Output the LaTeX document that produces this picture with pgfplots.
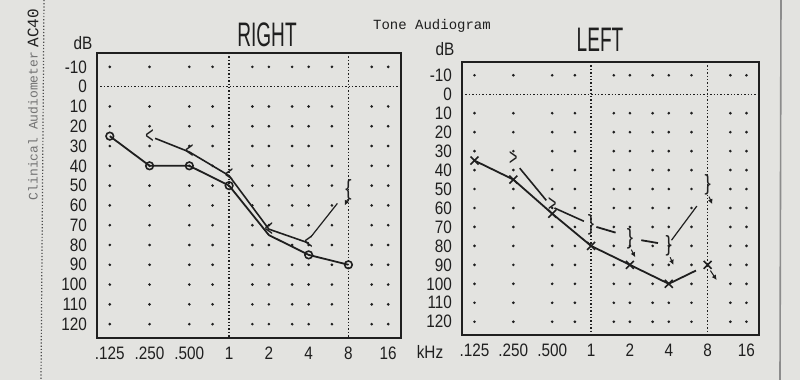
\documentclass[border=0pt]{standalone}
\usepackage{fontspec}
\setmainfont{Liberation Sans}[FakeStretch=0.85]
\newfontfamily\monof{Liberation Mono}
\usepackage{pgfplots}
\pgfplotsset{compat=1.18}
\usetikzlibrary{arrows.meta}
\definecolor{paper}{rgb}{0.89,0.89,0.88}
\definecolor{ink}{rgb}{0.12,0.12,0.12}

\newcommand\gridpts{%
 \pgfplotsinvokeforeach{0.125,0.25,0.5,0.75,1.5,2,3,4,6,12,16}{%
  \addplot[only marks, mark=*, mark size=0.45pt, ink, forget plot]
   coordinates {(##1,-10)(##1,10)(##1,20)(##1,30)(##1,40)(##1,50)(##1,60)(##1,70)(##1,80)(##1,90)(##1,100)(##1,110)(##1,120)};
 }%
 \addplot[ink, densely dotted, line width=0.7pt, forget plot] coordinates {(1,-17)(1,127)};
 \addplot[ink, densely dotted, line width=0.7pt, forget plot] coordinates {(8,-17)(8,127)};
 \addplot[ink, densely dotted, line width=0.7pt, forget plot] coordinates {(0.1,0)(20,0)};
}

\begin{document}
\begin{tikzpicture}[x=0.5pt,y=-0.5pt]
\fill[paper] (0,0) rectangle (800,380);
\useasboundingbox (0,0) rectangle (800,380);
\draw[ink!80, densely dotted, line width=0.6pt] (44,0) -- (41,380);
\draw[black!45, line width=0.8pt] (781,0) -- (780,380);

% ---------------- RIGHT ----------------
\begin{axis}[at={(48.5pt,-26.5pt)}, anchor=north west, width=152pt, height=142.5pt,
  scale only axis,
  xmode=log, log basis x=2, xmin=0.1, xmax=20,
  y dir=reverse, ymin=-17, ymax=127,
  axis line style={ink, line width=1.1pt},
  xtick={0.125,0.25,0.5,1,2,4,8,16},
  xticklabels={.125,.250,.500,1,2,4,8,16},
  ytick={-10,0,10,20,30,40,50,60,70,80,90,100,110,120},
  yticklabels={-10,0,10,20,30,40,50,60,70,80,90,100,110,120},
  major tick length=0pt,
  tick label style={font=\fontsize{9}{10}\selectfont, text=ink},
  xticklabel style={yshift=-1pt},
  yticklabel style={xshift=-1.5pt},
  clip=false]
\gridpts
% air conduction (O)
\addplot[ink, line width=0.9pt, mark=o, mark size=1.9pt, mark indices={1,2,3,4,6,7},
  mark options={solid, fill=paper, line width=0.8pt}]
  coordinates {(0.125,25)(0.25,40)(0.5,40)(1,50)(2,75)(4,85)(8,90)};
% bone conduction
\addplot[ink, line width=0.8pt, shorten <=3pt] coordinates {(0.25,25)(0.5,33)(1,45)(2,72)(4,79)};
\addplot[ink, line width=0.6pt] coordinates {(4.15,76)(6.6,59)};
\addplot[only marks, mark=text, text mark={<}, text mark as node=true,
   text mark style={font=\fontsize{12}{12}\selectfont, text=ink, xscale=0.7}]
   coordinates {(0.25,25)(0.5,33)(1,45)(2,72)(4,79)};
\addplot[only marks, mark=text, text mark={\{}, text mark as node=true,
   text mark style={font=\fontsize{11}{11}\selectfont, text=ink}]
   coordinates {(8,52)};
\addplot[ink, line width=0.5pt, -{Latex[length=2.5pt,width=2.5pt]}] coordinates {(7.9,57)(7.5,60)};
\end{axis}

% ---------------- LEFT ----------------
\begin{axis}[at={(231pt,-31pt)}, anchor=north west, width=148.5pt, height=136.5pt,
  scale only axis,
  xmode=log, log basis x=2, xmin=0.1, xmax=20,
  y dir=reverse, ymin=-17, ymax=127,
  axis line style={ink, line width=1.1pt},
  xtick={0.125,0.25,0.5,1,2,4,8,16},
  xticklabels={.125,.250,.500,1,2,4,8,16},
  ytick={-10,0,10,20,30,40,50,60,70,80,90,100,110,120},
  yticklabels={-10,0,10,20,30,40,50,60,70,80,90,100,110,120},
  major tick length=0pt,
  tick label style={font=\fontsize{9}{10}\selectfont, text=ink},
  xticklabel style={yshift=-1pt},
  yticklabel style={xshift=-1.5pt},
  clip=false]
\gridpts
% air conduction (X)
\addplot[ink, line width=0.9pt, mark=x, mark size=2.8pt, mark indices={1,2,3,4,5,6},
  mark options={solid, line width=0.8pt}]
  coordinates {(0.125,35)(0.25,45)(0.5,63)(1,80)(2,90)(4,100)(6.5,93)};
\addplot[only marks, mark=x, mark size=2.8pt, ink, mark options={line width=0.8pt}] coordinates {(8,90)};
\addplot[ink, line width=0.5pt, -{Latex[length=2.5pt,width=2.5pt]}] coordinates {(8.4,93)(9.4,98)};
% bone conduction
\addplot[ink, line width=0.8pt] coordinates {(0.28,39)(0.45,56)};
\addplot[ink, line width=0.8pt] coordinates {(0.52,60)(0.88,67)};
\addplot[ink, line width=0.9pt] coordinates {(1.1,70)(1.55,73)};
\addplot[ink, line width=0.9pt] coordinates {(2.45,77)(3.3,78.5)};
\addplot[ink, line width=0.6pt] coordinates {(4.2,77)(6.6,59)};
\addplot[only marks, mark=text, text mark={>}, text mark as node=true,
   text mark style={font=\fontsize{12}{12}\selectfont, text=ink, xscale=0.7}]
   coordinates {(0.25,34)(0.5,58)};
\addplot[only marks, mark=text, text mark={\}}, text mark as node=true,
   text mark style={font=\fontsize{11}{11}\selectfont, text=ink}]
   coordinates {(1,69)(2,76)(4,80)(8,48)};
\addplot[ink, line width=0.5pt, -{Latex[length=2.5pt,width=2.5pt]}] coordinates {(2.05,82)(2.2,86)};
\addplot[ink, line width=0.5pt, -{Latex[length=2.5pt,width=2.5pt]}] coordinates {(4.1,86)(4.35,90)};
\addplot[ink, line width=0.5pt, -{Latex[length=2.5pt,width=2.5pt]}] coordinates {(8.2,54)(8.7,58)};
\end{axis}

% ---------------- texts ----------------
\node[ink, font=\fontsize{17}{17}\selectfont, xscale=0.66] at (267,35) {RIGHT};
\node[ink, font=\fontsize{17}{17}\selectfont, xscale=0.66] at (600,40) {LEFT};
\node[ink, font=\monof\fontsize{7}{7}\selectfont] at (432,26) {Tone Audiogram};
\node[ink, font=\fontsize{9}{10}\selectfont] at (83,43) {dB};
\node[ink, font=\fontsize{9}{10}\selectfont] at (445,49) {dB};
\node[ink, font=\fontsize{9}{10}\selectfont] at (430,352) {kHz};
\node[black!55, font=\monof\fontsize{6.5}{6.5}\selectfont, rotate=90] at (33,126) {Clinical Audiometer};
\node[ink, font=\monof\fontsize{8}{8}\selectfont, rotate=90] at (33,28) {AC40};
\end{tikzpicture}
\end{document}
